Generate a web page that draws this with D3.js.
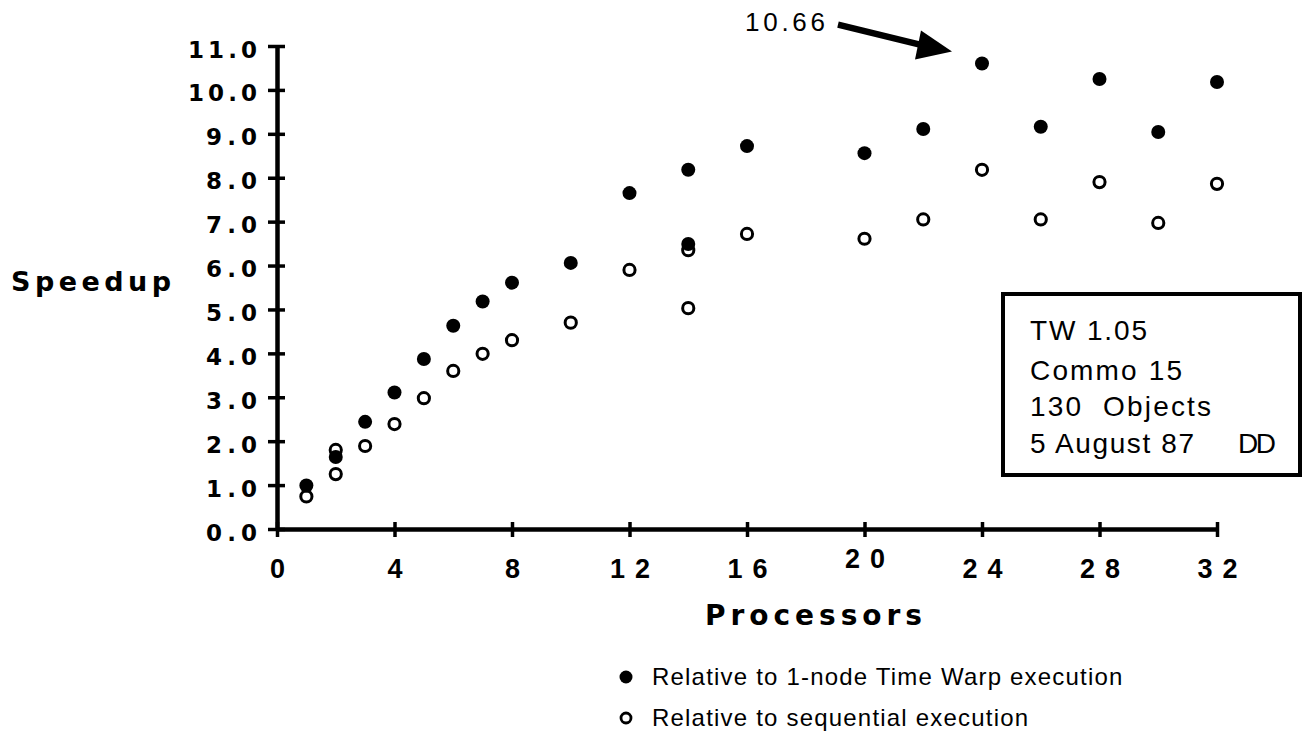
<!DOCTYPE html>
<html>
<head>
<meta charset="utf-8">
<script src="https://cdn.jsdelivr.net/npm/d3@7"></script>
<style>
  html, body { margin: 0; padding: 0; background: #fff; }
  svg { display: block; }
</style>
</head>
<body>
<svg id="chart" width="1309" height="740"></svg>
<script>
// ---- data ----
const xTickValues = [0, 4, 8, 12, 16, 20, 24, 28, 32];
const yTickValues = [0, 1, 2, 3, 4, 5, 6, 7, 8, 9, 10, 11];
const yTickLabels = ["0.0","1.0","2.0","3.0","4.0","5.0","6.0","7.0","8.0","9.0","10.0","11.0"];

// Relative to 1-node Time Warp execution (filled)
const twProcessors = [1, 2, 3, 4, 5, 6, 7, 8, 10, 12, 14, 14, 16, 20, 22, 24, 26, 28, 30, 32];
const twSpeedup    = [0.99, 1.64, 2.44, 3.11, 3.87, 4.63, 5.18, 5.61, 6.06, 7.65, 8.18, 6.49, 8.72, 8.56, 9.11, 10.6, 9.16, 10.25, 9.04, 10.18];

// Relative to sequential execution (open)
const seqProcessors = [1, 2, 2, 3, 4, 5, 6, 7, 8, 10, 12, 14, 14, 16, 20, 22, 24, 26, 28, 30, 32];
const seqSpeedup    = [0.74, 1.8, 1.25, 1.89, 2.39, 2.98, 3.6, 3.99, 4.3, 4.7, 5.9, 6.35, 5.03, 6.72, 6.61, 7.05, 8.18, 7.05, 7.9, 6.97, 7.86];

const peakLabel = "10.66";
const peakProcessors = 24;
const infoLines = ["TW 1.05", "Commo 15", "130  Objects", "5 August 87"];
const infoTag = "DD";
const legendLabels = ["Relative to 1-node Time Warp execution", "Relative to sequential execution"];

// ---- drawing ----
const svg = d3.select("#chart");
const x = d3.scaleLinear().domain([0, 32]).range([277, 1217]);
const y = d3.scaleLinear().domain([0, 11]).range([529, 46]);

const boldWide = "'DejaVu Sans', sans-serif";
const helv = "'Liberation Sans', Arial, Helvetica, sans-serif";

// Y axis
const yAxis = svg.append("g")
  .attr("transform", `translate(${x(0)},0)`)
  .call(d3.axisLeft(y).tickValues(yTickValues).tickSizeOuter(0).tickSizeInner(9)
        .tickFormat((d, i) => yTickLabels[i]));
yAxis.select(".domain").attr("stroke", "#000").attr("stroke-width", 4.5);
yAxis.selectAll(".tick line").attr("x1", -9).attr("x2", 8).attr("stroke", "#000").attr("stroke-width", 3.5);
yAxis.selectAll(".tick text")
  .attr("x", -20).attr("dy", null).attr("y", 11)
  .attr("fill", "#000")
  .style("font-family", boldWide).style("font-weight", "bold").style("font-size", "23px")
  .attr("text-anchor", "end")
  .attr("textLength", d => yTickLabels[d].length === 3 ? 51 : 69)
  .attr("lengthAdjust", "spacing");

// X axis
const xAxis = svg.append("g")
  .attr("transform", `translate(0,${y(0)})`)
  .call(d3.axisBottom(x).tickValues(xTickValues).tickSizeOuter(0).tickSizeInner(8));
xAxis.select(".domain").attr("stroke", "#000").attr("stroke-width", 4.5);
xAxis.selectAll(".tick line").attr("y1", -7).attr("y2", 8).attr("stroke", "#000").attr("stroke-width", 3.5);
xAxis.selectAll(".tick text")
  .attr("dy", null).attr("y", d => d === 20 ? 39 : 49)
  .attr("fill", "#000")
  .style("font-family", helv).style("font-weight", "bold").style("font-size", "27px")
  .attr("text-anchor", "middle")
  .each(function(d) {
    if (String(d).length === 2) {
      d3.select(this).attr("textLength", 40).attr("lengthAdjust", "spacing");
    }
  });

// Axis titles
svg.append("text")
  .attr("x", 11).attr("y", 291)
  .attr("textLength", 160).attr("lengthAdjust", "spacing")
  .style("font-family", boldWide).style("font-weight", "bold").style("font-size", "27px")
  .text("Speedup");

svg.append("text")
  .attr("x", 705).attr("y", 625)
  .attr("textLength", 217).attr("lengthAdjust", "spacing")
  .style("font-family", boldWide).style("font-weight", "bold").style("font-size", "28px")
  .text("Processors");

// Points
const seqData = seqProcessors.map((p, i) => ({p, s: seqSpeedup[i]}));
const twData = twProcessors.map((p, i) => ({p, s: twSpeedup[i]}));

svg.append("g").selectAll("circle").data(seqData).join("circle")
  .attr("cx", d => x(d.p)).attr("cy", d => y(d.s)).attr("r", 5.6)
  .attr("fill", "#fff").attr("stroke", "#000").attr("stroke-width", 3);

svg.append("g").selectAll("circle").data(twData).join("circle")
  .attr("cx", d => x(d.p)).attr("cy", d => y(d.s)).attr("r", 7)
  .attr("fill", "#000");

// Peak annotation
const peakIdx = twProcessors.indexOf(peakProcessors);
const px = x(peakProcessors), py = y(twSpeedup[peakIdx]);
const tip = [px - 30, py - 12];
svg.append("line")
  .attr("x1", px - 144).attr("y1", py - 39)
  .attr("x2", px - 58).attr("y2", py - 18)
  .attr("stroke", "#000").attr("stroke-width", 6.5);
svg.append("polygon")
  .attr("points", [[px - 61, py - 33], tip, [px - 67, py - 4]].map(p => p.join(",")).join(" "))
  .attr("fill", "#000");
svg.append("text")
  .attr("x", px - 237).attr("y", py - 33)
  .attr("textLength", 80).attr("lengthAdjust", "spacing")
  .style("font-family", helv).style("font-size", "26px")
  .text(peakLabel);

// Info box
svg.append("rect")
  .attr("x", 1003).attr("y", 294).attr("width", 297).attr("height", 181)
  .attr("fill", "none").attr("stroke", "#000").attr("stroke-width", 4);
const infoBase = [340, 380, 416, 453];
const infoWidths = [117, 152, 181, 164];
svg.append("g").selectAll("text").data(infoLines).join("text")
  .attr("x", 1030).attr("y", (d, i) => infoBase[i])
  .attr("textLength", (d, i) => infoWidths[i]).attr("lengthAdjust", "spacing")
  .style("font-family", helv).style("font-size", "28px")
  .style("white-space", "pre")
  .text(d => d);
svg.append("text")
  .attr("x", 1238).attr("y", 453)
  .attr("textLength", 38).attr("lengthAdjust", "spacing")
  .style("font-family", helv).style("font-size", "28px")
  .text(infoTag);

// Legend
const legY = [677, 718];
svg.append("circle").attr("cx", 626).attr("cy", legY[0]).attr("r", 6.5).attr("fill", "#000");
svg.append("circle").attr("cx", 626).attr("cy", legY[1]).attr("r", 5).attr("fill", "#fff")
  .attr("stroke", "#000").attr("stroke-width", 2.8);
svg.append("g").selectAll("text").data(legendLabels).join("text")
  .attr("x", 652).attr("y", (d, i) => legY[i] + 8)
  .style("font-family", helv).style("font-size", "24px")
  .style("letter-spacing", "1.2px")
  .text(d => d);
</script>
</body>
</html>
